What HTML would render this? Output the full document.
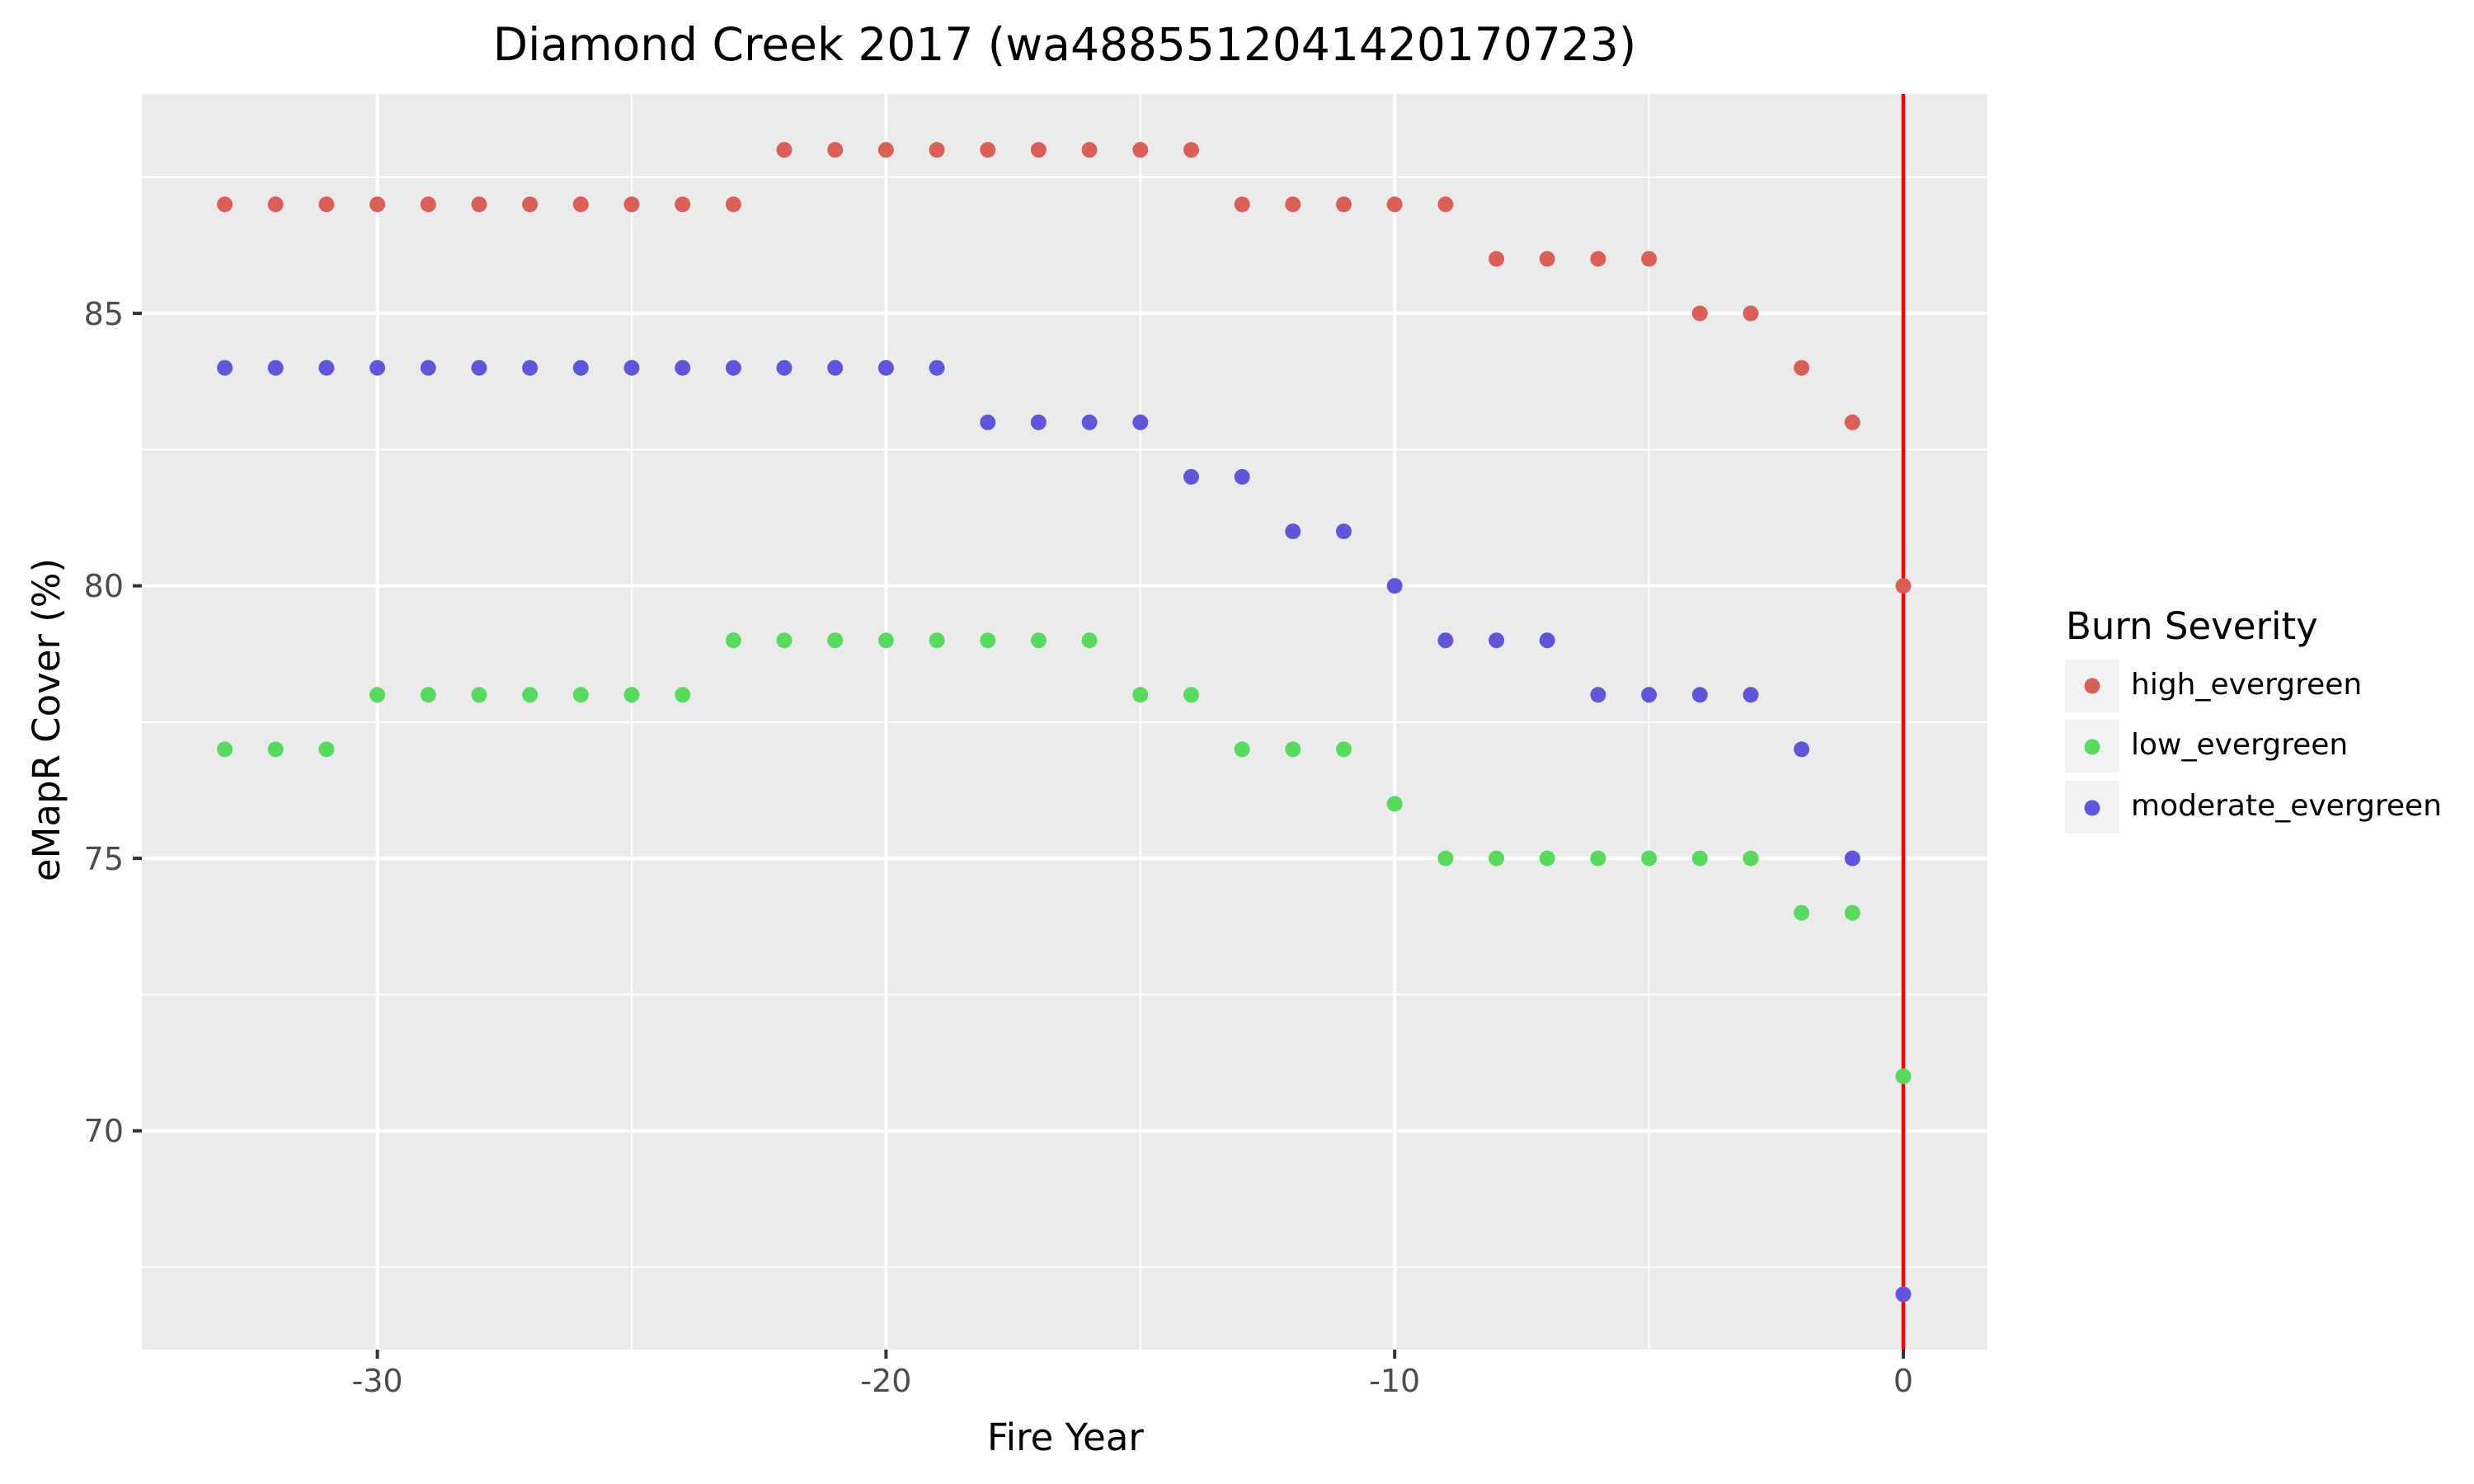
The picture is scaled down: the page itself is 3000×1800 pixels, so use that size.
<!DOCTYPE html>
<html><head><meta charset="utf-8"><style>
html,body{margin:0;padding:0;background:#fff;}
svg{display:block;font-family:"DejaVu Sans","Liberation Sans",sans-serif;}
</style></head><body>
<svg width="3000" height="1800" viewBox="0 0 3000 1800" xmlns="http://www.w3.org/2000/svg">
<rect x="0" y="0" width="3000" height="1800" fill="#fff"/>
<text x="1291" y="73" font-size="55" text-anchor="middle" fill="#000">Diamond Creek 2017 (wa4885512041420170723)</text>
<rect x="172" y="114" width="2238" height="1523" fill="#ebebeb"/>
<g stroke="#fff" stroke-width="2">
<line x1="172" x2="2410" y1="1536.9" y2="1536.9"/>
<line x1="172" x2="2410" y1="1206.4" y2="1206.4"/>
<line x1="172" x2="2410" y1="876" y2="876"/>
<line x1="172" x2="2410" y1="545.4" y2="545.4"/>
<line x1="172" x2="2410" y1="214.9" y2="214.9"/>
<line y1="114" y2="1637" x1="766" x2="766"/>
<line y1="114" y2="1637" x1="1382.8" x2="1382.8"/>
<line y1="114" y2="1637" x1="1999.6" x2="1999.6"/>
</g>
<g stroke="#fff" stroke-width="4">
<line x1="172" x2="2410" y1="1371.6" y2="1371.6"/>
<line x1="172" x2="2410" y1="1041.1" y2="1041.1"/>
<line x1="172" x2="2410" y1="710.6" y2="710.6"/>
<line x1="172" x2="2410" y1="380.1" y2="380.1"/>
<line y1="114" y2="1637" x1="457.6" x2="457.6"/>
<line y1="114" y2="1637" x1="1074.4" x2="1074.4"/>
<line y1="114" y2="1637" x1="1691.2" x2="1691.2"/>
<line y1="114" y2="1637" x1="2308" x2="2308"/>
</g>
<g stroke="#333" stroke-width="4">
<line x1="161" x2="172" y1="1371.6" y2="1371.6"/>
<line x1="161" x2="172" y1="1041.1" y2="1041.1"/>
<line x1="161" x2="172" y1="710.6" y2="710.6"/>
<line x1="161" x2="172" y1="380.1" y2="380.1"/>
<line y1="1637" y2="1648" x1="457.6" x2="457.6"/>
<line y1="1637" y2="1648" x1="1074.4" x2="1074.4"/>
<line y1="1637" y2="1648" x1="1691.2" x2="1691.2"/>
<line y1="1637" y2="1648" x1="2308" x2="2308"/>
</g>
<g fill="#4d4d4d" font-size="38" text-anchor="end">
<text x="150" y="1385">70</text>
<text x="150" y="1055">75</text>
<text x="150" y="724">80</text>
<text x="150" y="394">85</text>
</g>
<g fill="#4d4d4d" font-size="38" text-anchor="middle">
<text x="457.6" y="1688">-30</text>
<text x="1074.4" y="1688">-20</text>
<text x="1691.2" y="1688">-10</text>
<text x="2308" y="1688">0</text>
</g>
<text x="1292" y="1759" font-size="45" text-anchor="middle" fill="#000">Fire Year</text>
<text transform="translate(72,873) rotate(-90)" font-size="45" text-anchor="middle" fill="#000">eMapR Cover (%)</text>
<line x1="2308" x2="2308" y1="114" y2="1637" stroke="#ff0000" stroke-width="4.5"/>
<g fill="#db5f57">
<circle r="9.5" cx="272.6" cy="247.9"/><circle r="9.5" cx="334.2" cy="247.9"/><circle r="9.5" cx="395.9" cy="247.9"/><circle r="9.5" cx="457.6" cy="247.9"/><circle r="9.5" cx="519.3" cy="247.9"/><circle r="9.5" cx="581" cy="247.9"/><circle r="9.5" cx="642.6" cy="247.9"/><circle r="9.5" cx="704.3" cy="247.9"/><circle r="9.5" cx="766" cy="247.9"/><circle r="9.5" cx="827.7" cy="247.9"/><circle r="9.5" cx="889.4" cy="247.9"/>
<circle r="9.5" cx="951" cy="181.8"/><circle r="9.5" cx="1012.7" cy="181.8"/><circle r="9.5" cx="1074.4" cy="181.8"/><circle r="9.5" cx="1136.1" cy="181.8"/><circle r="9.5" cx="1197.8" cy="181.8"/><circle r="9.5" cx="1259.4" cy="181.8"/><circle r="9.5" cx="1321.1" cy="181.8"/><circle r="9.5" cx="1382.8" cy="181.8"/><circle r="9.5" cx="1444.5" cy="181.8"/>
<circle r="9.5" cx="1506.2" cy="247.9"/><circle r="9.5" cx="1567.8" cy="247.9"/><circle r="9.5" cx="1629.5" cy="247.9"/><circle r="9.5" cx="1691.2" cy="247.9"/><circle r="9.5" cx="1752.9" cy="247.9"/>
<circle r="9.5" cx="1814.6" cy="314"/><circle r="9.5" cx="1876.2" cy="314"/><circle r="9.5" cx="1937.9" cy="314"/><circle r="9.5" cx="1999.6" cy="314"/>
<circle r="9.5" cx="2061.3" cy="380.1"/><circle r="9.5" cx="2123" cy="380.1"/>
<circle r="9.5" cx="2184.6" cy="446.2"/><circle r="9.5" cx="2246.3" cy="512.3"/><circle r="9.5" cx="2308" cy="710.6"/>
</g>
<g fill="#5f57db">
<circle r="9.5" cx="272.6" cy="446.2"/><circle r="9.5" cx="334.2" cy="446.2"/><circle r="9.5" cx="395.9" cy="446.2"/><circle r="9.5" cx="457.6" cy="446.2"/><circle r="9.5" cx="519.3" cy="446.2"/><circle r="9.5" cx="581" cy="446.2"/><circle r="9.5" cx="642.6" cy="446.2"/><circle r="9.5" cx="704.3" cy="446.2"/><circle r="9.5" cx="766" cy="446.2"/><circle r="9.5" cx="827.7" cy="446.2"/><circle r="9.5" cx="889.4" cy="446.2"/><circle r="9.5" cx="951" cy="446.2"/><circle r="9.5" cx="1012.7" cy="446.2"/><circle r="9.5" cx="1074.4" cy="446.2"/><circle r="9.5" cx="1136.1" cy="446.2"/>
<circle r="9.5" cx="1197.8" cy="512.3"/><circle r="9.5" cx="1259.4" cy="512.3"/><circle r="9.5" cx="1321.1" cy="512.3"/><circle r="9.5" cx="1382.8" cy="512.3"/>
<circle r="9.5" cx="1444.5" cy="578.4"/><circle r="9.5" cx="1506.2" cy="578.4"/>
<circle r="9.5" cx="1567.8" cy="644.5"/><circle r="9.5" cx="1629.5" cy="644.5"/>
<circle r="9.5" cx="1691.2" cy="710.6"/>
<circle r="9.5" cx="1752.9" cy="776.7"/><circle r="9.5" cx="1814.6" cy="776.7"/><circle r="9.5" cx="1876.2" cy="776.7"/>
<circle r="9.5" cx="1937.9" cy="842.8"/><circle r="9.5" cx="1999.6" cy="842.8"/><circle r="9.5" cx="2061.3" cy="842.8"/><circle r="9.5" cx="2123" cy="842.8"/>
<circle r="9.5" cx="2184.6" cy="908.9"/><circle r="9.5" cx="2246.3" cy="1041.1"/><circle r="9.5" cx="2308" cy="1569.9"/>
</g>
<g fill="#57db5f">
<circle r="9.5" cx="272.6" cy="908.9"/><circle r="9.5" cx="334.2" cy="908.9"/><circle r="9.5" cx="395.9" cy="908.9"/>
<circle r="9.5" cx="457.6" cy="842.8"/><circle r="9.5" cx="519.3" cy="842.8"/><circle r="9.5" cx="581" cy="842.8"/><circle r="9.5" cx="642.6" cy="842.8"/><circle r="9.5" cx="704.3" cy="842.8"/><circle r="9.5" cx="766" cy="842.8"/><circle r="9.5" cx="827.7" cy="842.8"/>
<circle r="9.5" cx="889.4" cy="776.7"/><circle r="9.5" cx="951" cy="776.7"/><circle r="9.5" cx="1012.7" cy="776.7"/><circle r="9.5" cx="1074.4" cy="776.7"/><circle r="9.5" cx="1136.1" cy="776.7"/><circle r="9.5" cx="1197.8" cy="776.7"/><circle r="9.5" cx="1259.4" cy="776.7"/><circle r="9.5" cx="1321.1" cy="776.7"/>
<circle r="9.5" cx="1382.8" cy="842.8"/><circle r="9.5" cx="1444.5" cy="842.8"/>
<circle r="9.5" cx="1506.2" cy="908.9"/><circle r="9.5" cx="1567.8" cy="908.9"/><circle r="9.5" cx="1629.5" cy="908.9"/>
<circle r="9.5" cx="1691.2" cy="975"/>
<circle r="9.5" cx="1752.9" cy="1041.1"/><circle r="9.5" cx="1814.6" cy="1041.1"/><circle r="9.5" cx="1876.2" cy="1041.1"/><circle r="9.5" cx="1937.9" cy="1041.1"/><circle r="9.5" cx="1999.6" cy="1041.1"/><circle r="9.5" cx="2061.3" cy="1041.1"/><circle r="9.5" cx="2123" cy="1041.1"/>
<circle r="9.5" cx="2184.6" cy="1107.2"/><circle r="9.5" cx="2246.3" cy="1107.2"/><circle r="9.5" cx="2308" cy="1305.5"/>
</g>
<text x="2505" y="775" font-size="45" fill="#000">Burn Severity</text>
<rect x="2504" y="800" width="66" height="64" fill="#f2f2f2"/>
<rect x="2504" y="873" width="66" height="64" fill="#f2f2f2"/>
<rect x="2504" y="947" width="66" height="64" fill="#f2f2f2"/>
<circle cx="2537" cy="832" r="9.5" fill="#db5f57"/>
<circle cx="2537" cy="906" r="9.5" fill="#57db5f"/>
<circle cx="2537" cy="980" r="9.5" fill="#5f57db"/>
<g font-size="36" fill="#000">
<text x="2584" y="842">high_evergreen</text>
<text x="2584" y="915">low_evergreen</text>
<text x="2584" y="989">moderate_evergreen</text>
</g>
</svg>
</body></html>
